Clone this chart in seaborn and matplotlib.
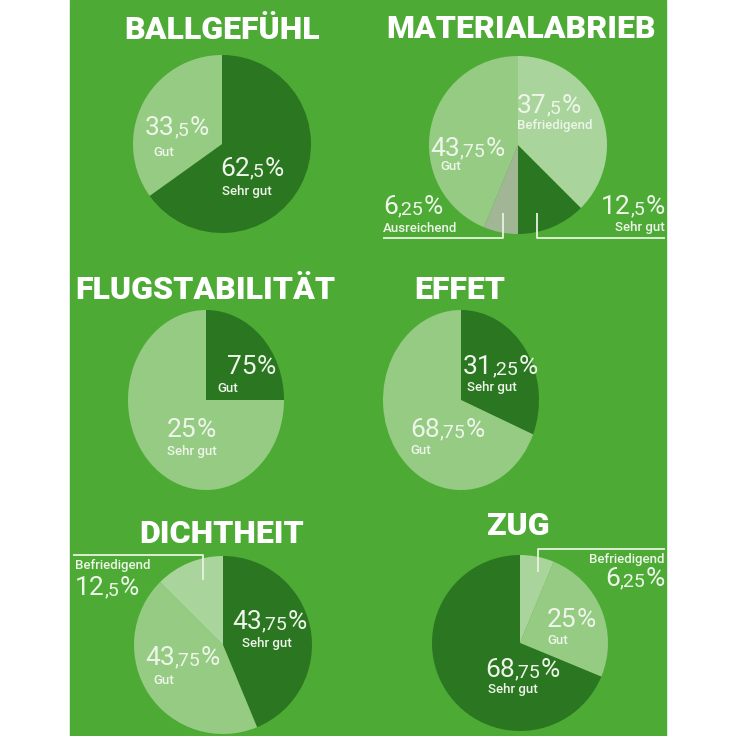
import matplotlib
matplotlib.use("Agg")
import matplotlib.pyplot as plt
import seaborn as sns
from matplotlib.patches import Rectangle
from matplotlib.offsetbox import TextArea, HPacker, AnnotationBbox

sns.set_theme(style="white")

# colours
bg = "#4dab35"
dark = "#2b7621"
light = "#95cb83"
lightest = "#a9d49b"
grey = "#a1b695"

# data
ball_names = ["Sehr gut", "Gut"]
ball_values = [62.5, 33.5]

mat_names = ["Sehr gut", "Befriedigend", "Gut", "Ausreichend"]
mat_values = [12.5, 37.5, 43.75, 6.25]

flug_names = ["Gut", "Sehr gut"]
flug_values = [75, 25]          # as printed
flug_slices = [25, 75]          # as drawn

effet_names = ["Sehr gut", "Gut"]
effet_values = [31.25, 68.75]

dicht_names = ["Sehr gut", "Gut", "Befriedigend"]
dicht_values = [43.75, 43.75, 12.5]

zug_names = ["Befriedigend", "Gut", "Sehr gut"]
zug_values = [6.25, 25, 68.75]

W = 736
fig = plt.figure(figsize=(7.36, 7.36), dpi=100)
fig.patch.set_facecolor("white")
fig.add_artist(Rectangle((70 / W, 0), 596 / W, 1, transform=fig.transFigure,
                         color=bg, zorder=0))


def pie_axes(cx, cy, rx, ry, sizes, colors, start, ccw):
    ax = fig.add_axes([(cx - rx) / W, (W - cy - ry) / W, 2 * rx / W, 2 * ry / W])
    ax.pie(sizes, colors=colors, startangle=start, counterclock=ccw,
           wedgeprops=dict(linewidth=0, antialiased=True))
    ax.set_aspect("auto")
    ax.set_xlim(-1, 1)
    ax.set_ylim(-1, 1)
    ax.set_facecolor("none")
    ax.axis("off")
    return ax


pie_axes(222, 144, 89, 89, ball_values, [dark, light], 90, False)
pie_axes(518, 145, 89, 89, mat_values, [dark, lightest, light, grey], 270, True)
pie_axes(206, 400, 78, 90, flug_slices, [dark, light], 90, False)
pie_axes(461, 400, 78, 90, effet_values, [dark, light], 90, False)
pie_axes(223, 645, 89, 89, dicht_values, [dark, light, lightest], 90, False)
pie_axes(520, 643, 88, 88, zug_values, [lightest, light, dark], 90, False)

# overlay in pixel coordinates for titles and labels
ov = fig.add_axes([0, 0, 1, 1], zorder=5)
ov.set_xlim(0, W)
ov.set_ylim(W, 0)
ov.set_facecolor("none")
ov.axis("off")

txt = "#eef6ea"
title_kw = dict(color="white", fontsize=23, fontweight="heavy", family=["Roboto", "DejaVu Sans"],
                ha="center", va="center")
ov.text(222, 30, "BALLGEFÜHL", **title_kw)
ov.text(521, 29, "MATERIALABRIEB", **title_kw)
ov.text(205, 290, "FLUGSTABILITÄT", **title_kw)
ov.text(460, 290, "EFFET", **title_kw)
ov.text(222, 534, "DICHTHEIT", **title_kw)
ov.text(518, 526, "ZUG", **title_kw)

num_font = dict(color=txt, family=["Roboto", "DejaVu Sans"], fontweight="normal")


def pct(v):
    return f"{v:g}".replace(".", ",")


def number(x, y, v, ha="left"):
    s = pct(v)
    main, _, dec = s.partition(",")
    parts = [TextArea(main, textprops=dict(fontsize=19, **num_font))]
    if dec:
        parts.append(TextArea("," + dec, textprops=dict(fontsize=14, **num_font)))
    parts.append(TextArea("%", textprops=dict(fontsize=19, **num_font)))
    box = HPacker(children=parts, align="baseline", pad=0, sep=0)
    ab = AnnotationBbox(box, (x, y), xycoords="data", frameon=False, pad=0,
                        box_alignment=(0 if ha == "left" else 1, 0.5))
    ov.add_artist(ab)


name_kw = dict(color=txt, fontsize=9.5, fontweight="medium", family=["Roboto", "DejaVu Sans"],
               va="center")


def name(x, y, s, ha="left"):
    ov.text(x, y, s, ha=ha, **name_kw)


# Ballgefühl
number(145, 128, ball_values[1]); name(153, 152, ball_names[1])
number(220, 169, ball_values[0]); name(222, 191, ball_names[0])

# Materialabrieb
number(517, 106, mat_values[1]); name(517, 126, mat_names[1])
number(430, 149, mat_values[2]); name(440, 167, mat_names[2])
number(383, 207, mat_values[3]); name(383, 228, mat_names[3])
number(665, 207, mat_values[0], ha="right"); name(665, 228, mat_names[0], ha="right")

# Flugstabilität
number(227, 367, flug_values[0]); name(217, 388, flug_names[0])
number(167, 430, flug_values[1]); name(167, 452, flug_names[1])

# Effet
number(463, 367, effet_values[0]); name(467, 387, effet_names[0])
number(410, 430, effet_values[1]); name(410, 450, effet_names[1])

# Dichtheit
name(75, 565, dicht_names[2]); number(75, 588, dicht_values[2])
number(232, 622, dicht_values[0]); name(242, 643, dicht_names[0])
number(145, 658, dicht_values[1]); name(153, 680, dicht_names[1])

# Zug
name(665, 560, zug_names[0], ha="right"); number(665, 579, zug_values[0], ha="right")
number(547, 620, zug_values[1]); name(547, 641, zug_names[1])
number(485, 670, zug_values[2]); name(488, 690, zug_names[2])

# leader lines
line_kw = dict(color="#e6f2df", lw=1.3, solid_capstyle="butt")
ov.plot([503, 503, 383], [213, 238, 238], **line_kw)
ov.plot([537, 537, 665], [213, 238, 238], **line_kw)
ov.plot([203, 203, 73], [580, 555, 555], **line_kw)
ov.plot([538, 538, 665], [572, 549, 549], **line_kw)

fig.savefig("out.png", dpi=100, facecolor=fig.get_facecolor())
